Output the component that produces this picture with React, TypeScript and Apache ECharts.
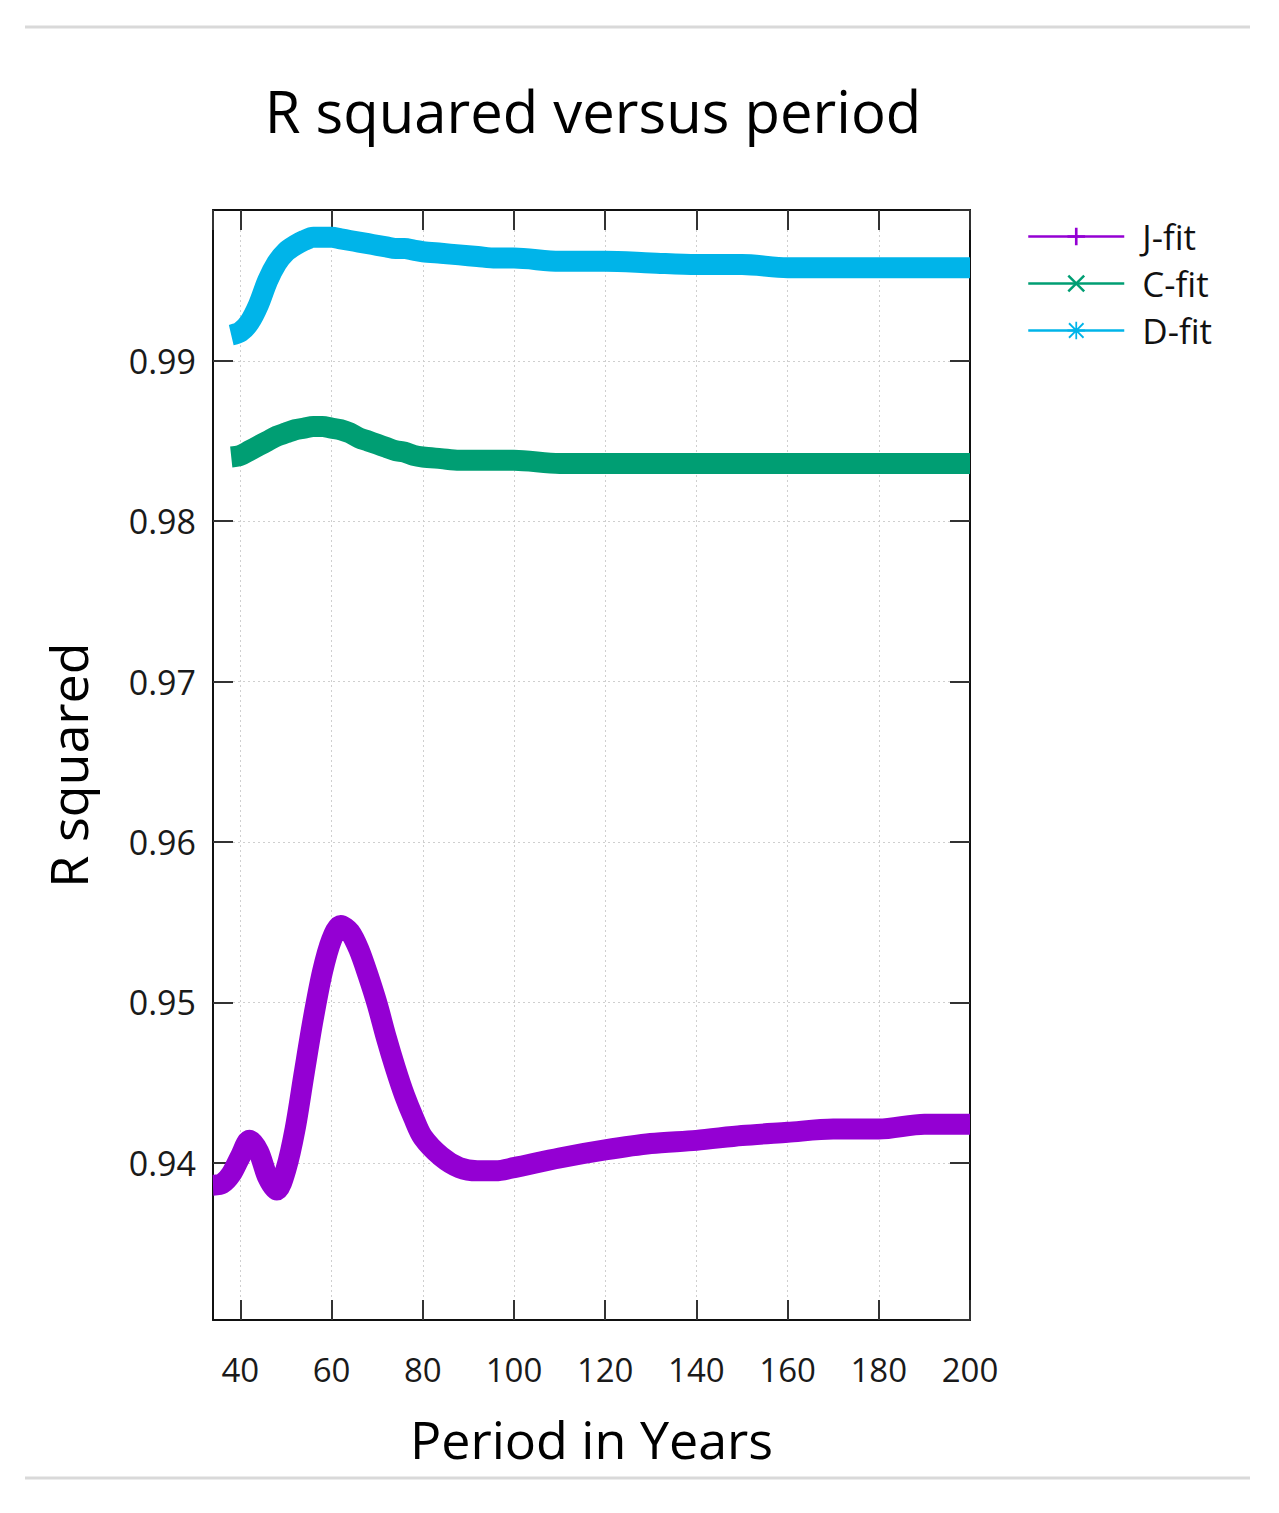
import * as React from "react";
import * as echarts from "echarts";
import { useEffect, useRef } from "react";

// values
const periods = [
  34, 36, 38, 40, 42, 44, 46, 48, 50, 52, 54, 56, 58, 60, 62, 64, 66, 68, 70, 72,
  74, 76, 78, 80, 84, 88, 92, 96, 100, 110, 120, 130, 140, 150, 160, 170, 180,
  190, 200,
];

const jFit = [
  0.9386, 0.9387, 0.9393, 0.9404, 0.9414, 0.9407, 0.9391, 0.9383, 0.9396,
  0.9421, 0.9456, 0.949, 0.9519, 0.9539, 0.9548, 0.9544, 0.9533, 0.9517,
  0.9499, 0.9478, 0.9459, 0.9442, 0.9428, 0.9416, 0.9404, 0.9397, 0.9395,
  0.9395, 0.9397, 0.9403, 0.9408, 0.9412, 0.9414, 0.9417, 0.9419, 0.9421,
  0.9421, 0.9424, 0.9424,
];

const cFit = [
  null, null, 0.984, 0.9841, 0.9844, 0.9847, 0.985, 0.9853, 0.9855, 0.9857,
  0.9858, 0.9859, 0.9859, 0.9858, 0.9857, 0.9855, 0.9852, 0.985, 0.9848,
  0.9846, 0.9844, 0.9843, 0.9841, 0.984, 0.9839, 0.9838, 0.9838, 0.9838,
  0.9838, 0.9836, 0.9836, 0.9836, 0.9836, 0.9836, 0.9836, 0.9836, 0.9836,
  0.9836, 0.9836,
];

const dFit = [
  null, null, 0.9916, 0.9918, 0.9924, 0.9935, 0.995, 0.9961, 0.9968, 0.9972,
  0.9975, 0.9977, 0.9977, 0.9977, 0.9976, 0.9975, 0.9974, 0.9973, 0.9972,
  0.9971, 0.997, 0.997, 0.9969, 0.9968, 0.9967, 0.9966, 0.9965, 0.9964,
  0.9964, 0.9962, 0.9962, 0.9961, 0.996, 0.996, 0.9958, 0.9958, 0.9958,
  0.9958, 0.9958,
];

const seriesNames = ["J-fit", "C-fit", "D-fit"];
const seriesColors = ["#9400d3", "#009e73", "#00b4e9"];

const plusIcon = "path://M8.5,0H11.5V8.5H20V11.5H11.5V20H8.5V11.5H0V8.5H8.5Z";
const crossIcon =
  "path://M0,2L2,0L10,8L18,0L20,2L12,10L20,18L18,20L10,12L2,20L0,18L8,10Z";
const starIcon =
  "path://M9,0H11V9H20V11H11V20H9V11H0V9H9Z M1,2.5L2.5,1L10,8.5L17.5,1L19,2.5L11.5,10L19,17.5L17.5,19L10,11.5L2.5,19L1,17.5L8.5,10Z";
const seriesIcons = [plusIcon, crossIcon, starIcon];

const FONT = "'Open Sans', 'Noto Sans', sans-serif";

const toPairs = (vals: (number | null)[]) =>
  periods
    .map((p, i) => [p, vals[i]])
    .filter((d) => d[1] !== null);

const App = () => {
  const chartRef = useRef<HTMLDivElement>(null);

  useEffect(() => {
    if (!chartRef.current) return;
    const myChart = echarts.init(chartRef.current, undefined, {
      renderer: "svg",
    });

    const xCommon = {
      type: "value",
      min: 34,
      max: 200,
      splitNumber: 8,
      axisLine: { show: true, onZero: false, lineStyle: { color: "#111", width: 2 } },
      axisTick: { show: true, inside: true, length: 20, lineStyle: { color: "#333", width: 2 } },
    };
    const yCommon = {
      type: "value",
      min: 0.9302,
      max: 0.9994,
      splitNumber: 7,
      axisLine: { show: true, onZero: false, lineStyle: { color: "#111", width: 2 } },
      axisTick: { show: true, inside: true, length: 20, lineStyle: { color: "#333", width: 2 } },
    };
    const gridLine = {
      show: true,
      lineStyle: { color: "#cfcfcf", width: 1, type: [2, 3] },
    };

    const option = {
      animation: false,
      backgroundColor: "#fff",
      title: {
        text: "R squared versus period",
        left: 580,
        top: 68,
        textAlign: "center",
        textStyle: {
          fontFamily: FONT,
          fontSize: 58,
          fontWeight: "normal",
          color: "#000",
        },
      },
      legend: {
        orient: "vertical",
        left: 1014,
        top: 206,
        itemWidth: 96,
        itemHeight: 22,
        itemGap: 12,
        data: seriesNames,
        lineStyle: { width: 2.5 },
        textStyle: {
          fontFamily: FONT,
          fontSize: 35,
          color: "#111",
          padding: [0, 0, 0, 13],
        },
      },
      grid: { left: 205, top: 202, width: 757, height: 1110 },
      xAxis: [
        {
          ...xCommon,
          position: "bottom",
          name: "Period in Years",
          nameLocation: "middle",
          nameGap: 92,
          nameTextStyle: { fontFamily: FONT, fontSize: 52, color: "#000" },
          axisLabel: {
            showMinLabel: false,
            showMaxLabel: true,
            margin: 33,
            fontFamily: FONT,
            fontSize: 33,
            color: "#1a1a1a",
          },
          splitLine: gridLine,
        },
        {
          ...xCommon,
          position: "top",
          axisLabel: { show: false },
          splitLine: { show: false },
        },
      ],
      yAxis: [
        {
          ...yCommon,
          position: "left",
          name: "R squared",
          nameLocation: "middle",
          nameGap: 120,
          nameTextStyle: { fontFamily: FONT, fontSize: 52, color: "#000" },
          axisLabel: {
            showMinLabel: false,
            showMaxLabel: false,
            margin: 17,
            fontFamily: FONT,
            fontSize: 34,
            color: "#1a1a1a",
            formatter: (v: number) => v.toFixed(2),
          },
          splitLine: gridLine,
        },
        {
          ...yCommon,
          position: "right",
          axisLabel: { show: false },
          splitLine: { show: false },
        },
      ],
      graphic: [
        {
          type: "line",
          shape: { x1: 17, y1: 19, x2: 1242, y2: 19 },
          style: { stroke: "#d9d9d9", lineWidth: 3 },
        },
        {
          type: "line",
          shape: { x1: 17, y1: 1470, x2: 1242, y2: 1470 },
          style: { stroke: "#d9d9d9", lineWidth: 3 },
        },
      ],
      series: [jFit, cFit, dFit].map((vals, i) => ({
        name: seriesNames[i],
        type: "line",
        xAxisIndex: 0,
        yAxisIndex: 0,
        data: toPairs(vals),
        symbol: seriesIcons[i],
        symbolSize: 16,
        showSymbol: false,
        smooth: 0.3,
        clip: false,
        color: seriesColors[i],
        lineStyle: {
          color: seriesColors[i],
          width: 21,
          cap: "butt",
          join: "round",
        },
        z: 3,
      })),
    };

    myChart.setOption(option as any);

    return () => {
      myChart.dispose();
    };
  }, []);

  return <div ref={chartRef} style={{ width: 1263, height: 1497 }} />;
};

export default App;
